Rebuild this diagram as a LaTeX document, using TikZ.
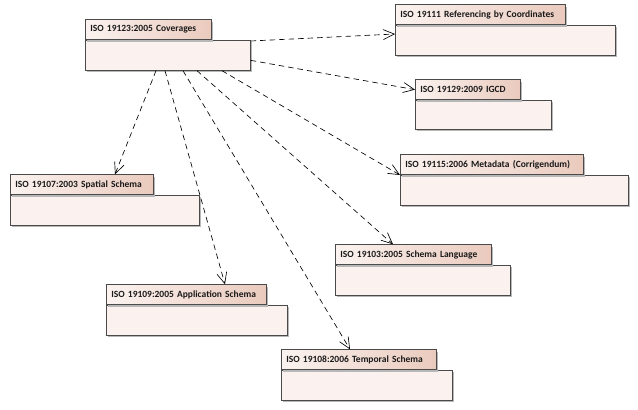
\documentclass[tikz,border=0pt]{standalone}
\usepackage{fontspec}
\setmainfont{Carlito}
\usetikzlibrary{arrows.meta, shadows, calc, positioning}

\definecolor{tabL}{HTML}{FBF3F0}
\definecolor{tabR}{HTML}{EACABD}
\definecolor{bodyfill}{HTML}{FBF1EE}
\definecolor{edge}{HTML}{4A4A4A}

\tikzset{
  pkgbody/.style={draw=edge, line width=0.7pt, fill=bodyfill, minimum height=30pt, inner sep=0pt,
    anchor=north west, drop shadow={shadow xshift=2pt, shadow yshift=-2pt, fill=black!28, opacity=1}},
  pkgtab/.style={draw=edge, line width=0.7pt, left color=tabL, right color=tabR, minimum height=20pt,
    inner xsep=5pt, inner ysep=0pt, anchor=south west, align=left,
    font=\fontsize{9.5}{11}\selectfont\bfseries, text=black!90,
    drop shadow={shadow xshift=2pt, shadow yshift=-2pt, fill=black!28, opacity=1}},
  dep/.style={draw=black, line width=0.65pt, dash pattern=on 5.5pt off 4pt,
    -{Straight Barb[length=11pt, width=10pt]}}
}

\begin{document}
\begin{tikzpicture}[x=1pt, y=-1pt]
  \useasboundingbox[fill=white] (0,0) rectangle (638,410);
  % packages: body first, tab sitting on top of it
  \node at (85,40) (covb) [pkgbody, minimum width=165pt]{};
  \node at (covb.north west) (cov) [pkgtab, text width=116pt]{ISO 19123:2005 Coverages};
  \node at (395,25) (refb) [pkgbody, minimum width=220pt]{};
  \node at (refb.north west) (ref) [pkgtab, text width=160pt]{ISO 19111 Referencing by Coordinates};
  \node at (415,100) (igcdb) [pkgbody, minimum width=136pt, minimum height=29pt]{};
  \node at (igcdb.north west) (igcd) [pkgtab, text width=95pt]{ISO 19129:2009 IGCD};
  \node at (400,175) (metab) [pkgbody, minimum width=228pt]{};
  \node at (metab.north west) (meta) [pkgtab, text width=173pt]{ISO 19115:2006 Metadata (Corrigendum)};
  \node at (10,195) (spatb) [pkgbody, minimum width=189pt]{};
  \node at (spatb.north west) (spat) [pkgtab, text width=133pt]{ISO 19107:2003 Spatial Schema};
  \node at (335,265) (langb) [pkgbody, minimum width=175pt]{};
  \node at (langb.north west) (lang) [pkgtab, text width=146pt]{ISO 19103:2005 Schema Language};
  \node at (106,305) (appb) [pkgbody, minimum width=181pt]{};
  \node at (appb.north west) (app) [pkgtab, text width=150pt]{ISO 19109:2005 Application Schema};
  \node at (281,370) (tempb) [pkgbody, minimum width=171pt]{};
  \node at (tempb.north west) (temp) [pkgtab, text width=145pt]{ISO 19108:2006 Temporal Schema};
  % dependencies
  \draw[dep] ($(covb.north east)+(0,1)$) -- ($(refb.north west)+(0,9)$);
  \draw[dep] ($(covb.east)+(0,5)$) -- (igcd.west);
  \draw[dep] ($(covb.south west)+(137,0)$) -- (metab.north west);
  \draw[dep] ($(covb.south west)+(112,0)$) -- ($(lang.north west)+(58,0)$);
  \draw[dep] ($(covb.south west)+(98,0)$) -- ($(temp.north west)+(69,0)$);
  \draw[dep] ($(covb.south west)+(80,0)$) -- ($(app.north west)+(119,0)$);
  \draw[dep] ($(covb.south west)+(71,0)$) -- ($(spat.north west)+(105,0)$);
\end{tikzpicture}
\end{document}
